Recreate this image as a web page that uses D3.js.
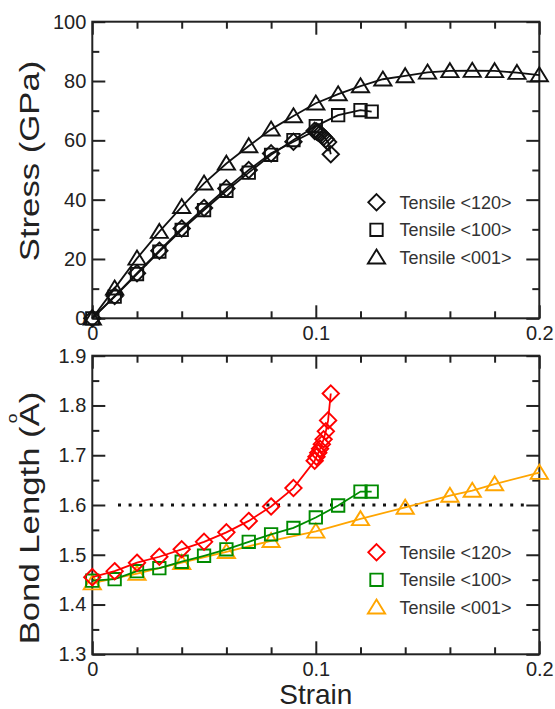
<!DOCTYPE html>
<html>
<head>
<meta charset="utf-8">
<script src="https://cdn.jsdelivr.net/npm/d3@7"></script>
<style>
  html, body { margin: 0; padding: 0; background: #fff; }
  svg { display: block; }
  text { font-family: "Liberation Sans", Arial, Helvetica, sans-serif; }
</style>
</head>
<body>
<svg id="chart" width="555" height="709"></svg>
<script>
// ---- data -------------------------------------------------------------
// Tensile <120>
const strain120 = [0, 0.01, 0.02, 0.03, 0.04, 0.05, 0.06, 0.07, 0.08, 0.09,
                   0.0995, 0.1003, 0.1011, 0.1019, 0.1027, 0.1035, 0.1045, 0.1055, 0.1067];
const stress120 = [0, 7.5, 15.2, 22.8, 30.3, 37.2, 43.8, 50.0, 55.6, 59.5,
                   63.2, 63.0, 62.6, 62.2, 61.7, 61.1, 60.4, 59.4, 55.3];
const bond120   = [1.455, 1.467, 1.484, 1.496, 1.511, 1.526, 1.545, 1.568, 1.597, 1.634,
                   1.689, 1.697, 1.705, 1.713, 1.722, 1.732, 1.748, 1.770, 1.824];

// Tensile <100>
const strain100 = [0, 0.01, 0.02, 0.03, 0.04, 0.05, 0.06, 0.07, 0.08, 0.09, 0.10, 0.11, 0.12, 0.125];
const stress100 = [0, 7.3, 14.9, 22.5, 29.8, 36.5, 43.0, 49.1, 55.1, 60.1, 64.8, 68.5, 70.2, 69.7];
const bond100   = [1.448, 1.451, 1.467, 1.473, 1.486, 1.498, 1.511, 1.526, 1.541, 1.554, 1.575, 1.599, 1.627, 1.627];

// Tensile <001>
const strainStress001 = [0, 0.01, 0.02, 0.03, 0.04, 0.05, 0.06, 0.07, 0.08, 0.09, 0.10,
                         0.11, 0.12, 0.13, 0.14, 0.15, 0.16, 0.17, 0.18, 0.19, 0.20];
const stress001 = [0, 10.1, 20.2, 29.2, 37.6, 45.5, 52.2, 58.1, 63.7, 68.2, 72.5,
                   75.6, 78.3, 80.6, 81.7, 82.9, 83.4, 83.5, 83.4, 82.8, 82.0];
const strainBond001 = [0, 0.02, 0.04, 0.06, 0.08, 0.10, 0.12, 0.14, 0.16, 0.17, 0.18, 0.20];
const bond001 = [1.443, 1.462, 1.484, 1.506, 1.528, 1.547, 1.572, 1.595, 1.619, 1.629, 1.642, 1.665];

const legendLabels = ["Tensile <120>", "Tensile <100>", "Tensile <001>"];
const strainMajor = [0, 0.1, 0.2];
const strainMinor = [0.02, 0.04, 0.06, 0.08, 0.12, 0.14, 0.16, 0.18];
const stressMajor = [0, 20, 40, 60, 80, 100];
const stressMinor = [10, 30, 50, 70, 90];
const bondMajor = [1.3, 1.4, 1.5, 1.6, 1.7, 1.8, 1.9];
const bondMinor = [1.35, 1.45, 1.55, 1.65, 1.75, 1.85];
const bondThreshold = 1.6;

// ---- layout -----------------------------------------------------------
const svg = d3.select("#chart");
const left = 92.3, right = 539.3;
const topPanel = { y0: 21.7, y1: 318.3 };
const botPanel = { y0: 355.7, y1: 654.3 };
const axisColor = "#222";

const x = d3.scaleLinear().domain([0, 0.2]).range([left, right]);
const yStress = d3.scaleLinear().domain([0, 100]).range([topPanel.y1, topPanel.y0]);
const yBond = d3.scaleLinear().domain([1.3, 1.9]).range([botPanel.y1, botPanel.y0]);

// ---- marker shapes (outline only) --------------------------------------
const shapes = {
  diamond: () => `M0,-8.2L8.2,0L0,8.2L-8.2,0Z`,
  square: () => `M-6.2,-6.2H6.2V6.2H-6.2Z`,
  triangle: () => `M0,-7.8L8.6,6.2L-8.6,6.2Z`
};

function drawFrame(g, y, panel, yMajor, yMinor, yFmt) {
  const W = right - left, H = panel.y1 - panel.y0;
  const ax = (gen, tx, ty) => g.append("g").attr("transform", `translate(${tx},${ty})`).call(gen);

  const style = (sel) => {
    sel.select(".domain").remove();
    sel.selectAll("line").attr("stroke", axisColor).attr("stroke-width", 2);
    sel.selectAll("text").attr("fill", axisColor).attr("font-size", 20);
  };
  // bottom / top
  style(ax(d3.axisBottom(x).tickValues(strainMajor).tickSize(-13).tickPadding(7.5)
    .tickFormat(d => d === 0 ? "0" : d3.format(".1f")(d)), 0, panel.y1));
  style(ax(d3.axisBottom(x).tickValues(strainMinor).tickSize(-7).tickFormat(""), 0, panel.y1));
  style(ax(d3.axisTop(x).tickValues(strainMajor).tickSize(-13).tickFormat(""), 0, panel.y0));
  style(ax(d3.axisTop(x).tickValues(strainMinor).tickSize(-7).tickFormat(""), 0, panel.y0));
  // left / right
  style(ax(d3.axisLeft(y).tickValues(yMajor).tickSize(-13).tickPadding(6).tickFormat(yFmt), left, 0));
  style(ax(d3.axisLeft(y).tickValues(yMinor).tickSize(-7).tickFormat(""), left, 0));
  style(ax(d3.axisRight(y).tickValues(yMajor).tickSize(-13).tickFormat(""), right, 0));
  style(ax(d3.axisRight(y).tickValues(yMinor).tickSize(-7).tickFormat(""), right, 0));

  g.append("rect")
    .attr("x", left).attr("y", panel.y0).attr("width", W).attr("height", H)
    .attr("fill", "none").attr("stroke", axisColor).attr("stroke-width", 2);
}

function drawSeries(g, xs, ys, y, color, shape) {
  const pts = xs.map((v, i) => [v, ys[i]]);
  g.append("path")
    .attr("d", d3.line().x(d => x(d[0])).y(d => y(d[1]))(pts))
    .attr("fill", "none").attr("stroke", color).attr("stroke-width", 1.8);
  g.append("g").selectAll("path").data(pts).join("path")
    .attr("transform", d => `translate(${x(d[0])},${y(d[1])})`)
    .attr("d", shapes[shape]())
    .attr("fill", "none").attr("stroke", color).attr("stroke-width", 1.9);
}

function drawLegend(g, lx, ly, colors, kinds) {
  legendLabels.forEach((lab, i) => {
    const cy = ly + i * 27.5;
    g.append("path").attr("transform", `translate(${lx},${cy})`)
      .attr("d", shapes[kinds[i]]())
      .attr("fill", "none").attr("stroke", colors[i]).attr("stroke-width", 1.9);
    g.append("text").attr("x", lx + 23).attr("y", cy + 6.5)
      .attr("font-size", 18).attr("fill", "#333").text(lab);
  });
}

// ---- top panel: stress ------------------------------------------------
const gTop = svg.append("g");
drawFrame(gTop, yStress, topPanel, stressMajor, stressMinor, d3.format("d"));
drawSeries(gTop, strainStress001, stress001, yStress, "#111", "triangle");
drawSeries(gTop, strain100, stress100, yStress, "#111", "square");
drawSeries(gTop, strain120, stress120, yStress, "#111", "diamond");
drawLegend(gTop, 376.5, 202.3, ["#111", "#111", "#111"], ["diamond", "square", "triangle"]);

// ---- bottom panel: bond length ----------------------------------------
const gBot = svg.append("g");
drawFrame(gBot, yBond, botPanel, bondMajor, bondMinor, d3.format(".1f"));
gBot.append("line")
  .attr("x1", x(0.0115)).attr("x2", x(0.196))
  .attr("y1", yBond(bondThreshold)).attr("y2", yBond(bondThreshold))
  .attr("stroke", "#111").attr("stroke-width", 3).attr("stroke-dasharray", "3 7.6");
drawSeries(gBot, strainBond001, bond001, yBond, "#ffa500", "triangle");
drawSeries(gBot, strain100, bond100, yBond, "#008b00", "square");
drawSeries(gBot, strain120, bond120, yBond, "#ff0000", "diamond");
drawLegend(gBot, 376.5, 552.3, ["#ff0000", "#008b00", "#ffa500"], ["diamond", "square", "triangle"]);

// ---- axis titles ------------------------------------------------------
svg.append("text").attr("x", (left + right) / 2).attr("y", 704)
  .attr("text-anchor", "middle").attr("font-size", 28).attr("fill", "#222").text("Strain");

// vertical titles use a tall, narrow setting of the face
const gS = svg.append("g").attr("transform", "translate(38.5,161) rotate(-90) scale(1.24,1)");
gS.append("text").attr("text-anchor", "middle").attr("font-size", 28).attr("fill", "#222")
  .text("Stress (GPa)");

const gB = svg.append("g").attr("transform", "translate(38.5,518) rotate(-90) scale(1.24,1)");
const bondTitle = gB.append("text").attr("text-anchor", "middle").attr("font-size", 28).attr("fill", "#222")
  .text("Bond Length (A)");
// ring of the angstrom sign, floated above the "A"
const ext = bondTitle.node().getExtentOfChar(13);
gB.append("text")
  .attr("x", ext.x + ext.width / 2 - 3).attr("y", -22)
  .attr("text-anchor", "middle").attr("font-size", 14).attr("fill", "#222").text("o");
</script>
</body>
</html>
